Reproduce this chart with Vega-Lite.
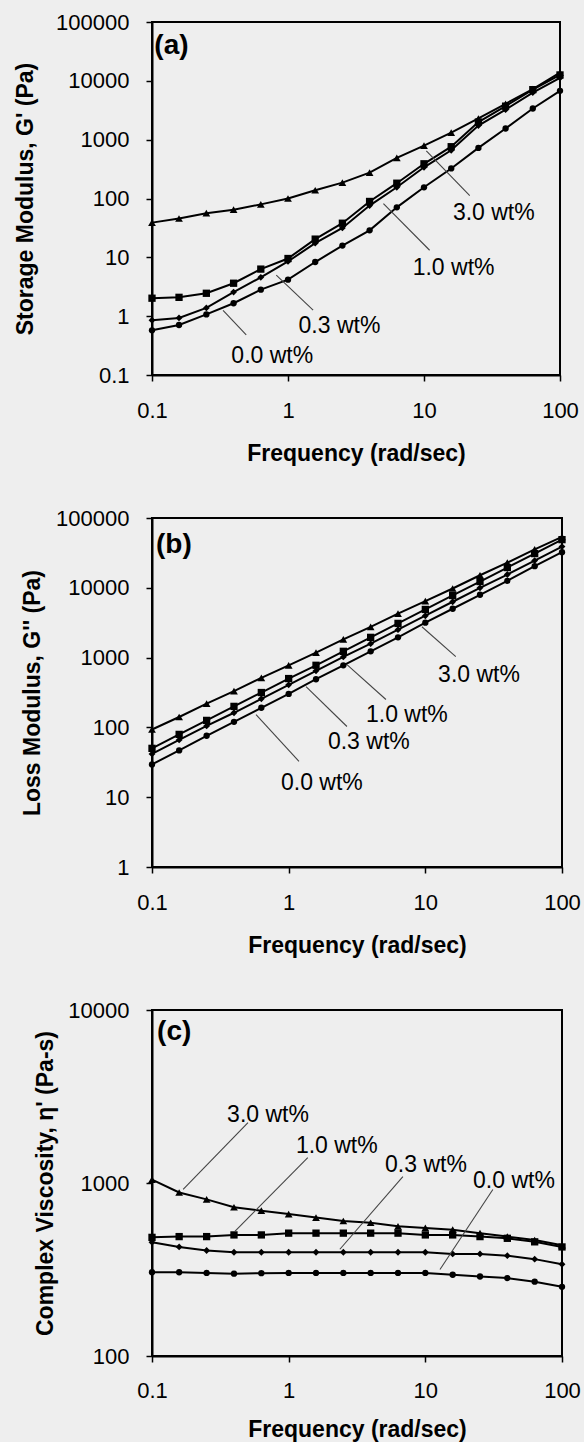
{
  "$schema": "https://vega.github.io/schema/vega-lite/v6.json",
  "background": "#eeeeee",
  "padding": {"left": 13, "top": 10, "right": 5, "bottom": 0},
  "spacing": 40,
  "config": {
    "font": "Liberation Sans",
    "view": {"stroke": "black", "strokeWidth": 2},
    "axis": {
      "grid": false, "domainColor": "black", "domainWidth": 2,
      "tickColor": "black", "tickSize": 6, "tickWidth": 1.5,
      "labelFont": "Liberation Sans", "labelFontSize": 22, "labelColor": "black",
      "titleFont": "Liberation Sans", "titleFontSize": 23, "titleFontWeight": "bold", "titleColor": "black",
      "labelPadding": 17, "labelFlush": false, "labelOverlap": false
    },
    "axisX": {"labelPadding": 19, "titlePadding": 21}
  },
  "datasets": {
    "d": [
      {"p":"a","s":"3.0","x":0.1,"y":38.9},{"p":"a","s":"3.0","x":0.158,"y":45.7},{"p":"a","s":"3.0","x":0.251,"y":56.2},{"p":"a","s":"3.0","x":0.398,"y":64.6},{"p":"a","s":"3.0","x":0.631,"y":79.4},{"p":"a","s":"3.0","x":1,"y":100},{"p":"a","s":"3.0","x":1.585,"y":138},{"p":"a","s":"3.0","x":2.512,"y":186},{"p":"a","s":"3.0","x":3.981,"y":275},{"p":"a","s":"3.0","x":6.31,"y":490},{"p":"a","s":"3.0","x":10,"y":794},{"p":"a","s":"3.0","x":15.85,"y":1318},{"p":"a","s":"3.0","x":25.12,"y":2291},{"p":"a","s":"3.0","x":39.81,"y":4074},{"p":"a","s":"3.0","x":63.1,"y":7244},{"p":"a","s":"3.0","x":100,"y":13804},
      {"p":"a","s":"1.0","x":0.1,"y":2.02},{"p":"a","s":"1.0","x":0.158,"y":2.09},{"p":"a","s":"1.0","x":0.251,"y":2.45},{"p":"a","s":"1.0","x":0.398,"y":3.63},{"p":"a","s":"1.0","x":0.631,"y":6.31},{"p":"a","s":"1.0","x":1,"y":9.55},{"p":"a","s":"1.0","x":1.585,"y":20.4},{"p":"a","s":"1.0","x":2.512,"y":38.0},{"p":"a","s":"1.0","x":3.981,"y":89.1},{"p":"a","s":"1.0","x":6.31,"y":182},{"p":"a","s":"1.0","x":10,"y":389},{"p":"a","s":"1.0","x":15.85,"y":759},{"p":"a","s":"1.0","x":25.12,"y":1995},{"p":"a","s":"1.0","x":39.81,"y":3715},{"p":"a","s":"1.0","x":63.1,"y":7079},{"p":"a","s":"1.0","x":100,"y":12589},
      {"p":"a","s":"0.3","x":0.1,"y":0.851},{"p":"a","s":"0.3","x":0.158,"y":0.933},{"p":"a","s":"0.3","x":0.251,"y":1.38},{"p":"a","s":"0.3","x":0.398,"y":2.57},{"p":"a","s":"0.3","x":0.631,"y":4.57},{"p":"a","s":"0.3","x":1,"y":8.51},{"p":"a","s":"0.3","x":1.585,"y":17.4},{"p":"a","s":"0.3","x":2.512,"y":31.6},{"p":"a","s":"0.3","x":3.981,"y":75.9},{"p":"a","s":"0.3","x":6.31,"y":155},{"p":"a","s":"0.3","x":10,"y":339},{"p":"a","s":"0.3","x":15.85,"y":661},{"p":"a","s":"0.3","x":25.12,"y":1738},{"p":"a","s":"0.3","x":39.81,"y":3236},{"p":"a","s":"0.3","x":63.1,"y":6310},{"p":"a","s":"0.3","x":100,"y":11220},
      {"p":"a","s":"0.0","x":0.1,"y":0.575},{"p":"a","s":"0.0","x":0.158,"y":0.708},{"p":"a","s":"0.0","x":0.251,"y":1.07},{"p":"a","s":"0.0","x":0.398,"y":1.66},{"p":"a","s":"0.0","x":0.631,"y":2.82},{"p":"a","s":"0.0","x":1,"y":4.17},{"p":"a","s":"0.0","x":1.585,"y":8.32},{"p":"a","s":"0.0","x":2.512,"y":15.85},{"p":"a","s":"0.0","x":3.981,"y":28.8},{"p":"a","s":"0.0","x":6.31,"y":70.8},{"p":"a","s":"0.0","x":10,"y":155},{"p":"a","s":"0.0","x":15.85,"y":324},{"p":"a","s":"0.0","x":25.12,"y":724},{"p":"a","s":"0.0","x":39.81,"y":1549},{"p":"a","s":"0.0","x":63.1,"y":3388},{"p":"a","s":"0.0","x":100,"y":6761},
      {"p":"b","s":"3.0","x":0.1,"y":93.3},{"p":"b","s":"3.0","x":0.158,"y":141},{"p":"b","s":"3.0","x":0.251,"y":219},{"p":"b","s":"3.0","x":0.398,"y":331},{"p":"b","s":"3.0","x":0.631,"y":513},{"p":"b","s":"3.0","x":1,"y":776},{"p":"b","s":"3.0","x":1.585,"y":1175},{"p":"b","s":"3.0","x":2.512,"y":1820},{"p":"b","s":"3.0","x":3.981,"y":2754},{"p":"b","s":"3.0","x":6.31,"y":4266},{"p":"b","s":"3.0","x":10,"y":6457},{"p":"b","s":"3.0","x":15.85,"y":9772},{"p":"b","s":"3.0","x":25.12,"y":15136},{"p":"b","s":"3.0","x":39.81,"y":22909},{"p":"b","s":"3.0","x":63.1,"y":35481},{"p":"b","s":"3.0","x":100,"y":53703},
      {"p":"b","s":"1.0","x":0.1,"y":50.1},{"p":"b","s":"1.0","x":0.158,"y":79.4},{"p":"b","s":"1.0","x":0.251,"y":126},{"p":"b","s":"1.0","x":0.398,"y":200},{"p":"b","s":"1.0","x":0.631,"y":316},{"p":"b","s":"1.0","x":1,"y":501},{"p":"b","s":"1.0","x":1.585,"y":776},{"p":"b","s":"1.0","x":2.512,"y":1230},{"p":"b","s":"1.0","x":3.981,"y":1950},{"p":"b","s":"1.0","x":6.31,"y":3090},{"p":"b","s":"1.0","x":10,"y":4898},{"p":"b","s":"1.0","x":15.85,"y":7762},{"p":"b","s":"1.0","x":25.12,"y":12303},{"p":"b","s":"1.0","x":39.81,"y":19498},{"p":"b","s":"1.0","x":63.1,"y":30903},{"p":"b","s":"1.0","x":100,"y":48978},
      {"p":"b","s":"0.3","x":0.1,"y":41.7},{"p":"b","s":"0.3","x":0.158,"y":66.1},{"p":"b","s":"0.3","x":0.251,"y":105},{"p":"b","s":"0.3","x":0.398,"y":162},{"p":"b","s":"0.3","x":0.631,"y":257},{"p":"b","s":"0.3","x":1,"y":407},{"p":"b","s":"0.3","x":1.585,"y":646},{"p":"b","s":"0.3","x":2.512,"y":1023},{"p":"b","s":"0.3","x":3.981,"y":1585},{"p":"b","s":"0.3","x":6.31,"y":2512},{"p":"b","s":"0.3","x":10,"y":3981},{"p":"b","s":"0.3","x":15.85,"y":6310},{"p":"b","s":"0.3","x":25.12,"y":10000},{"p":"b","s":"0.3","x":39.81,"y":15488},{"p":"b","s":"0.3","x":63.1,"y":24547},{"p":"b","s":"0.3","x":100,"y":38905},
      {"p":"b","s":"0.0","x":0.1,"y":29.5},{"p":"b","s":"0.0","x":0.158,"y":46.8},{"p":"b","s":"0.0","x":0.251,"y":75.9},{"p":"b","s":"0.0","x":0.398,"y":120},{"p":"b","s":"0.0","x":0.631,"y":191},{"p":"b","s":"0.0","x":1,"y":302},{"p":"b","s":"0.0","x":1.585,"y":490},{"p":"b","s":"0.0","x":2.512,"y":776},{"p":"b","s":"0.0","x":3.981,"y":1230},{"p":"b","s":"0.0","x":6.31,"y":1950},{"p":"b","s":"0.0","x":10,"y":3162},{"p":"b","s":"0.0","x":15.85,"y":5012},{"p":"b","s":"0.0","x":25.12,"y":7943},{"p":"b","s":"0.0","x":39.81,"y":12589},{"p":"b","s":"0.0","x":63.1,"y":20417},{"p":"b","s":"0.0","x":100,"y":32359},
      {"p":"c","s":"3.0","x":0.1,"y":1047},{"p":"c","s":"3.0","x":0.158,"y":881},{"p":"c","s":"3.0","x":0.251,"y":804},{"p":"c","s":"3.0","x":0.398,"y":724},{"p":"c","s":"3.0","x":0.631,"y":692},{"p":"c","s":"3.0","x":1,"y":661},{"p":"c","s":"3.0","x":1.585,"y":631},{"p":"c","s":"3.0","x":2.512,"y":603},{"p":"c","s":"3.0","x":3.981,"y":589},{"p":"c","s":"3.0","x":6.31,"y":562},{"p":"c","s":"3.0","x":10,"y":550},{"p":"c","s":"3.0","x":15.85,"y":537},{"p":"c","s":"3.0","x":25.12,"y":513},{"p":"c","s":"3.0","x":39.81,"y":490},{"p":"c","s":"3.0","x":63.1,"y":468},{"p":"c","s":"3.0","x":100,"y":437},
      {"p":"c","s":"1.0","x":0.1,"y":485},{"p":"c","s":"1.0","x":0.158,"y":490},{"p":"c","s":"1.0","x":0.251,"y":490},{"p":"c","s":"1.0","x":0.398,"y":501},{"p":"c","s":"1.0","x":0.631,"y":501},{"p":"c","s":"1.0","x":1,"y":513},{"p":"c","s":"1.0","x":1.585,"y":513},{"p":"c","s":"1.0","x":2.512,"y":513},{"p":"c","s":"1.0","x":3.981,"y":513},{"p":"c","s":"1.0","x":6.31,"y":513},{"p":"c","s":"1.0","x":10,"y":501},{"p":"c","s":"1.0","x":15.85,"y":501},{"p":"c","s":"1.0","x":25.12,"y":490},{"p":"c","s":"1.0","x":39.81,"y":479},{"p":"c","s":"1.0","x":63.1,"y":457},{"p":"c","s":"1.0","x":100,"y":427},
      {"p":"c","s":"0.3","x":0.1,"y":454},{"p":"c","s":"0.3","x":0.158,"y":427},{"p":"c","s":"0.3","x":0.251,"y":407},{"p":"c","s":"0.3","x":0.398,"y":398},{"p":"c","s":"0.3","x":0.631,"y":398},{"p":"c","s":"0.3","x":1,"y":398},{"p":"c","s":"0.3","x":1.585,"y":398},{"p":"c","s":"0.3","x":2.512,"y":398},{"p":"c","s":"0.3","x":3.981,"y":398},{"p":"c","s":"0.3","x":6.31,"y":398},{"p":"c","s":"0.3","x":10,"y":398},{"p":"c","s":"0.3","x":15.85,"y":389},{"p":"c","s":"0.3","x":25.12,"y":389},{"p":"c","s":"0.3","x":39.81,"y":380},{"p":"c","s":"0.3","x":63.1,"y":363},{"p":"c","s":"0.3","x":100,"y":339},
      {"p":"c","s":"0.0","x":0.1,"y":305},{"p":"c","s":"0.0","x":0.158,"y":305},{"p":"c","s":"0.0","x":0.251,"y":302},{"p":"c","s":"0.0","x":0.398,"y":299},{"p":"c","s":"0.0","x":0.631,"y":301},{"p":"c","s":"0.0","x":1,"y":302},{"p":"c","s":"0.0","x":1.585,"y":302},{"p":"c","s":"0.0","x":2.512,"y":302},{"p":"c","s":"0.0","x":3.981,"y":302},{"p":"c","s":"0.0","x":6.31,"y":302},{"p":"c","s":"0.0","x":10,"y":302},{"p":"c","s":"0.0","x":15.85,"y":295},{"p":"c","s":"0.0","x":25.12,"y":288},{"p":"c","s":"0.0","x":39.81,"y":282},{"p":"c","s":"0.0","x":63.1,"y":269},{"p":"c","s":"0.0","x":100,"y":251}
    ],
    "ptr": [
      {"p":"a","x":21.7,"y":112,"x2":10.4,"y2":646},
      {"p":"a","x":11.0,"y":13.2,"x2":5.03,"y2":82},
      {"p":"a","x":1.53,"y":1.27,"x2":0.82,"y2":5.0},
      {"p":"a","x":0.493,"y":0.479,"x2":0.333,"y2":1.26},
      {"p":"b","x":16.7,"y":1033,"x2":9.44,"y2":2770},
      {"p":"b","x":5.15,"y":251,"x2":2.67,"y2":794},
      {"p":"b","x":2.67,"y":103,"x2":1.34,"y2":385},
      {"p":"b","x":1.19,"y":32.7,"x2":0.577,"y2":153},
      {"p":"c","x":0.504,"y":2234,"x2":0.169,"y2":918},
      {"p":"c","x":1.38,"y":1403,"x2":0.404,"y2":525},
      {"p":"c","x":6.85,"y":1090,"x2":2.37,"y2":414},
      {"p":"c","x":31.2,"y":918,"x2":12.8,"y2":316}
    ],
    "lab": [
      {"p":"a","x":32.6,"y":55.7,"t":"3.0 wt%"},
      {"p":"a","x":16.5,"y":6.5,"t":"1.0 wt%"},
      {"p":"a","x":2.39,"y":0.676,"t":"0.3 wt%"},
      {"p":"a","x":0.766,"y":0.209,"t":"0.0 wt%"},
      {"p":"b","x":24.7,"y":572,"t":"3.0 wt%"},
      {"p":"b","x":7.33,"y":153,"t":"1.0 wt%"},
      {"p":"b","x":3.86,"y":61,"t":"0.3 wt%"},
      {"p":"b","x":1.75,"y":15.8,"t":"0.0 wt%"},
      {"p":"c","x":0.706,"y":2483,"t":"3.0 wt%"},
      {"p":"c","x":2.25,"y":1644,"t":"1.0 wt%"},
      {"p":"c","x":10.1,"y":1279,"t":"0.3 wt%"},
      {"p":"c","x":44.5,"y":1033,"t":"0.0 wt%"}
    ],
    "pl": [
      {"p":"a","x":0.104,"y":39200,"t":"(a)"},
      {"p":"b","x":0.107,"y":41100,"t":"(b)"},
      {"p":"c","x":0.109,"y":7465,"t":"(c)"}
    ]
  },
  "vconcat": [
    {
      "width": 408, "height": 353,
      "encoding": {
        "x": {"field":"x","type":"quantitative","scale":{"type":"log","domain":[0.1,100],"nice":false},"axis":{"values":[0.1,1,10,100],"format":"~g","title":"Frequency (rad/sec)"}},
        "y": {"field":"y","type":"quantitative","scale":{"type":"log","domain":[0.1,100000],"nice":false},"axis":{"values":[0.1,1,10,100,1000,10000,100000],"format":"~g","title":"Storage Modulus, G' (Pa)","titlePadding":18}}
      },
      "layer": [
        {"data":{"name":"d"},"transform":[{"filter":"datum.p == 'a'"}],"mark":{"type":"line","color":"black","strokeWidth":2},"encoding":{"detail":{"field":"s"}}},
        {"data":{"name":"d"},"transform":[{"filter":"datum.p == 'a'"}],"mark":{"type":"point","filled":true,"color":"black","opacity":1},"encoding":{"shape":{"field":"s","scale":{"domain":["0.0","0.3","1.0","3.0"],"range":["circle","diamond","square","triangle-up"]},"legend":null},"size":{"field":"s","scale":{"domain":["0.0","0.3","1.0","3.0"],"range":[40,60,55,90]},"legend":null}}},
        {"data":{"name":"ptr"},"transform":[{"filter":"datum.p == 'a'"}],"mark":{"type":"rule","color":"#444","strokeWidth":1.1},"encoding":{"x2":{"field":"x2"},"y2":{"field":"y2"}}},
        {"data":{"name":"lab"},"transform":[{"filter":"datum.p == 'a'"}],"mark":{"type":"text","fontSize":23,"color":"black","align":"center","baseline":"middle"},"encoding":{"text":{"field":"t"}}},
        {"data":{"name":"pl"},"transform":[{"filter":"datum.p == 'a'"}],"mark":{"type":"text","fontSize":28,"fontWeight":"bold","color":"black","align":"left","baseline":"middle"},"encoding":{"text":{"field":"t"}}}
      ]
    },
    {
      "width": 410, "height": 349,
      "encoding": {
        "x": {"field":"x","type":"quantitative","scale":{"type":"log","domain":[0.1,100],"nice":false},"axis":{"values":[0.1,1,10,100],"format":"~g","title":"Frequency (rad/sec)"}},
        "y": {"field":"y","type":"quantitative","scale":{"type":"log","domain":[1,100000],"nice":false},"axis":{"values":[1,10,100,1000,10000,100000],"format":"~g","title":"Loss Modulus, G'' (Pa)","titlePadding":11}}
      },
      "layer": [
        {"data":{"name":"d"},"transform":[{"filter":"datum.p == 'b'"}],"mark":{"type":"line","color":"black","strokeWidth":2},"encoding":{"detail":{"field":"s"}}},
        {"data":{"name":"d"},"transform":[{"filter":"datum.p == 'b'"}],"mark":{"type":"point","filled":true,"color":"black","opacity":1},"encoding":{"shape":{"field":"s","scale":{"domain":["0.0","0.3","1.0","3.0"],"range":["circle","diamond","square","triangle-up"]},"legend":null},"size":{"field":"s","scale":{"domain":["0.0","0.3","1.0","3.0"],"range":[40,60,55,90]},"legend":null}}},
        {"data":{"name":"ptr"},"transform":[{"filter":"datum.p == 'b'"}],"mark":{"type":"rule","color":"#444","strokeWidth":1.1},"encoding":{"x2":{"field":"x2"},"y2":{"field":"y2"}}},
        {"data":{"name":"lab"},"transform":[{"filter":"datum.p == 'b'"}],"mark":{"type":"text","fontSize":23,"color":"black","align":"center","baseline":"middle"},"encoding":{"text":{"field":"t"}}},
        {"data":{"name":"pl"},"transform":[{"filter":"datum.p == 'b'"}],"mark":{"type":"text","fontSize":28,"fontWeight":"bold","color":"black","align":"left","baseline":"middle"},"encoding":{"text":{"field":"t"}}}
      ]
    },
    {
      "width": 410, "height": 346,
      "encoding": {
        "x": {"field":"x","type":"quantitative","scale":{"type":"log","domain":[0.1,100],"nice":false},"axis":{"values":[0.1,1,10,100],"format":"~g","title":"Frequency (rad/sec)","labelPadding":18,"titlePadding":17}},
        "y": {"field":"y","type":"quantitative","scale":{"type":"log","domain":[100,10000],"nice":false},"axis":{"values":[100,1000,10000],"format":"~g","title":"Complex Viscosity, η' (Pa-s)","titlePadding":10.5}}
      },
      "layer": [
        {"data":{"name":"d"},"transform":[{"filter":"datum.p == 'c'"}],"mark":{"type":"line","color":"black","strokeWidth":2},"encoding":{"detail":{"field":"s"}}},
        {"data":{"name":"d"},"transform":[{"filter":"datum.p == 'c'"}],"mark":{"type":"point","filled":true,"color":"black","opacity":1},"encoding":{"shape":{"field":"s","scale":{"domain":["0.0","0.3","1.0","3.0"],"range":["circle","diamond","square","triangle-up"]},"legend":null},"size":{"field":"s","scale":{"domain":["0.0","0.3","1.0","3.0"],"range":[40,60,55,90]},"legend":null}}},
        {"data":{"name":"ptr"},"transform":[{"filter":"datum.p == 'c'"}],"mark":{"type":"rule","color":"#444","strokeWidth":1.1},"encoding":{"x2":{"field":"x2"},"y2":{"field":"y2"}}},
        {"data":{"name":"lab"},"transform":[{"filter":"datum.p == 'c'"}],"mark":{"type":"text","fontSize":23,"color":"black","align":"center","baseline":"middle"},"encoding":{"text":{"field":"t"}}},
        {"data":{"name":"pl"},"transform":[{"filter":"datum.p == 'c'"}],"mark":{"type":"text","fontSize":28,"fontWeight":"bold","color":"black","align":"left","baseline":"middle"},"encoding":{"text":{"field":"t"}}}
      ]
    }
  ]
}
